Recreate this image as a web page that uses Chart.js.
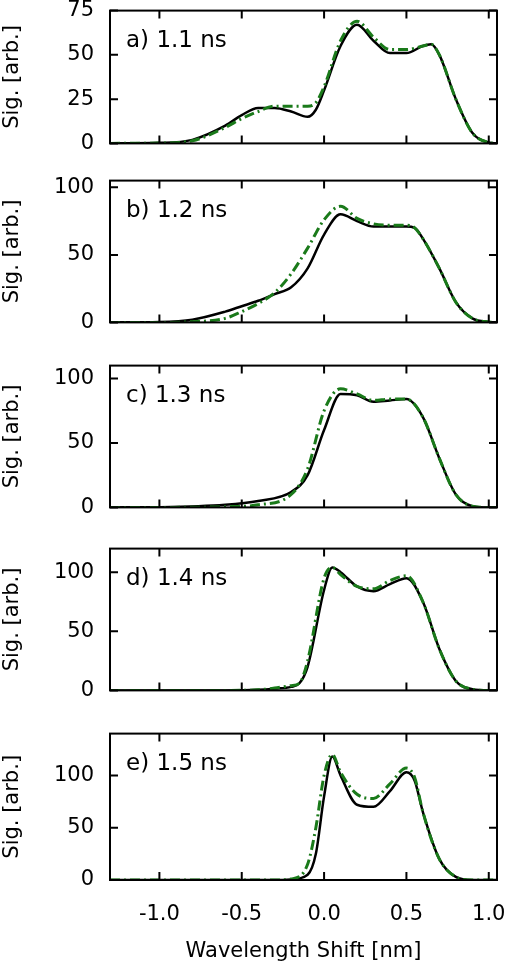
<!DOCTYPE html>
<html>
<head>
<script src="https://cdn.jsdelivr.net/npm/chart.js@4"></script>
<style>
  body { margin: 0; background: #fff; }
  .panel { position: absolute; left: 0; width: 520px; }
</style>
</head>
<body>
<script>
// Panel labels and y-axis limits
const labels = ["a) 1.1 ns", "b) 1.2 ns", "c) 1.3 ns", "d) 1.4 ns", "e) 1.5 ns"];
const yMax = [75, 105, 110, 120, 140];
const yTicks = [[0, 25, 50, 75], [0, 50, 100], [0, 50, 100], [0, 50, 100], [0, 50, 100]];

// x positions (nm) and values for each panel: black = measured, green = fit
const xA = [-1.3, -1.0, -0.8, -0.6, -0.5, -0.4, -0.3, -0.2, -0.1, -0.05, 0.0, 0.1, 0.2, 0.3, 0.4, 0.5, 0.6, 0.65, 0.7, 0.8, 0.9, 1.0, 1.05];
const blackA = [0, 0.3, 2, 10, 16, 20, 20, 18, 15, 19, 30, 55, 67, 58, 51, 51, 55, 56, 50, 25, 6, 0.5, 0];
const greenA = [0, 0.2, 1.5, 9, 14, 18, 21, 21, 21, 23, 32, 58, 69, 60, 53, 53, 55, 56, 50, 25, 6, 0.5, 0];

const xB = [-1.3, -1.0, -0.8, -0.6, -0.5, -0.4, -0.3, -0.2, -0.1, 0.0, 0.1, 0.2, 0.3, 0.4, 0.5, 0.55, 0.6, 0.7, 0.8, 0.9, 1.0, 1.05];
const blackB = [0, 0.3, 2, 8, 12, 16, 21, 26, 40, 65, 80, 75, 71, 71, 71, 70, 62, 40, 15, 3, 0.3, 0];
const greenB = [0, 0, 0.5, 3, 8, 14, 22, 36, 55, 76, 86, 77, 73, 72, 72, 70, 62, 40, 15, 3, 0.3, 0];

const xC = [-1.3, -1.0, -0.6, -0.4, -0.2, -0.1, 0.0, 0.1, 0.2, 0.3, 0.4, 0.5, 0.6, 0.7, 0.8, 0.9, 1.0, 1.05];
const blackC = [0, 0.2, 2, 5, 12, 25, 60, 88, 87, 82, 83, 84, 70, 38, 10, 1, 0, 0];
const greenC = [0, 0, 0.5, 2, 10, 30, 75, 92, 88, 83, 84, 84, 70, 38, 10, 1, 0, 0];

const xD = [-1.3, -0.6, -0.4, -0.3, -0.2, -0.15, -0.1, 0.0, 0.05, 0.1, 0.2, 0.3, 0.4, 0.5, 0.6, 0.7, 0.8, 0.9, 1.0, 1.05];
const blackD = [0, 0, 0.5, 1.5, 3, 6, 20, 85, 104, 100, 88, 84, 90, 95, 75, 35, 8, 1, 0, 0];
const greenD = [0, 0, 0.5, 2, 4, 6, 25, 95, 104, 98, 88, 86, 93, 97, 75, 35, 8, 1, 0, 0];

const xE = [-1.3, -0.3, -0.2, -0.1, -0.05, 0.0, 0.05, 0.1, 0.2, 0.3, 0.4, 0.5, 0.55, 0.6, 0.7, 0.8, 0.9, 1.05];
const blackE = [0, 0, 0.5, 5, 25, 80, 118, 100, 72, 70, 85, 103, 95, 65, 20, 3, 0, 0];
const greenE = [0, 0, 1, 15, 50, 100, 120, 103, 82, 78, 92, 107, 98, 65, 20, 3, 0, 0];

const panels = [
  [xA, blackA, greenA], [xB, blackB, greenB], [xC, blackC, greenC],
  [xD, blackD, greenD], [xE, blackE, greenE]
];
const tops = [10, 180, 365, 548, 733];
const bottoms = [148, 327, 512, 695, 880];
const xTicks = [-1.0, -0.5, 0.0, 0.5, 1.0];
const FONT = "DejaVu Sans";

const frame = {
  id: 'frame',
  afterDatasetsDraw(chart, args, opts) {
    const { ctx, chartArea: a } = chart;
    ctx.save();
    ctx.strokeStyle = '#000';
    ctx.lineWidth = 2;
    // inward tick marks
    const xs = chart.scales.x, ys = chart.scales.y;
    ctx.beginPath();
    xTicks.forEach(v => {
      const px = xs.getPixelForValue(v);
      ctx.moveTo(px, a.bottom); ctx.lineTo(px, a.bottom - 8);
      ctx.moveTo(px, a.top); ctx.lineTo(px, a.top + 8);
    });
    opts.yt.forEach(v => {
      const py = ys.getPixelForValue(v);
      ctx.moveTo(a.left, py); ctx.lineTo(a.left + 8, py);
      ctx.moveTo(a.right, py); ctx.lineTo(a.right - 8, py);
    });
    ctx.stroke();
    ctx.strokeRect(a.left, a.top, a.right - a.left, a.bottom - a.top);
    ctx.fillStyle = '#000';
    ctx.font = '23px ' + FONT;
    ctx.textBaseline = 'middle';
    ctx.fillText(opts.label, a.left + 16, a.top + 30);
    ctx.restore();
  }
};

panels.forEach((p, i) => {
  const last = i === panels.length - 1;
  // y tick labels overhang the plot by ~12px at each end
  const topOff = 20;
  const bottomExtra = last ? 88 : 16;
  const div = document.createElement('div');
  div.className = 'panel';
  div.style.top = (tops[i] - topOff) + 'px';
  div.style.height = (bottoms[i] - tops[i] + topOff + bottomExtra) + 'px';
  const cv = document.createElement('canvas');
  div.appendChild(cv);
  document.body.appendChild(div);

  const [xs, black, green] = p;
  new Chart(cv, {
    type: 'line',
    data: {
      datasets: [
        { data: xs.map((x, k) => ({ x, y: green[k] })), borderColor: '#1a7a1a', borderWidth: 3,
          borderDash: [10, 4, 2, 4], pointRadius: 0, cubicInterpolationMode: 'monotone' },
        { data: xs.map((x, k) => ({ x, y: black[k] })), borderColor: '#000', borderWidth: 2.5,
          pointRadius: 0, cubicInterpolationMode: 'monotone' }
      ]
    },
    options: {
      animation: false, responsive: true, maintainAspectRatio: false,
      layout: { padding: { top: 8, right: 23, bottom: last ? 0 : 4, left: 0 } },
      plugins: { legend: { display: false }, tooltip: { enabled: false },
                 frame: { label: labels[i], yt: yTicks[i] } },
      scales: {
        x: {
          type: 'linear', min: -1.3, max: 1.05, display: last,
          grid: { display: false }, border: { display: false },
          afterBuildTicks: s => { s.ticks = xTicks.map(v => ({ value: v })); },
          afterFit: s => { s.height = last ? 88 : 0; },
          ticks: { color: '#000', font: { family: FONT, size: 21 }, padding: 14,
                   callback: v => v.toFixed(1) },
          title: { display: true, text: 'Wavelength Shift [nm]', color: '#000',
                   font: { family: FONT, size: 21 } }
        },
        y: {
          min: 0, max: yMax[i],
          grid: { display: false }, border: { display: false },
          afterBuildTicks: s => { s.ticks = yTicks[i].map(v => ({ value: v })); },
          afterFit: s => { s.width = 110; },
          ticks: { color: '#000', font: { family: FONT, size: 21 }, padding: 8 },
          title: { display: true, text: 'Sig. [arb.]', color: '#000', padding: 0,
                   font: { family: FONT, size: 21 } }
        }
      }
    },
    plugins: [frame]
  });
});
</script>
</body>
</html>
